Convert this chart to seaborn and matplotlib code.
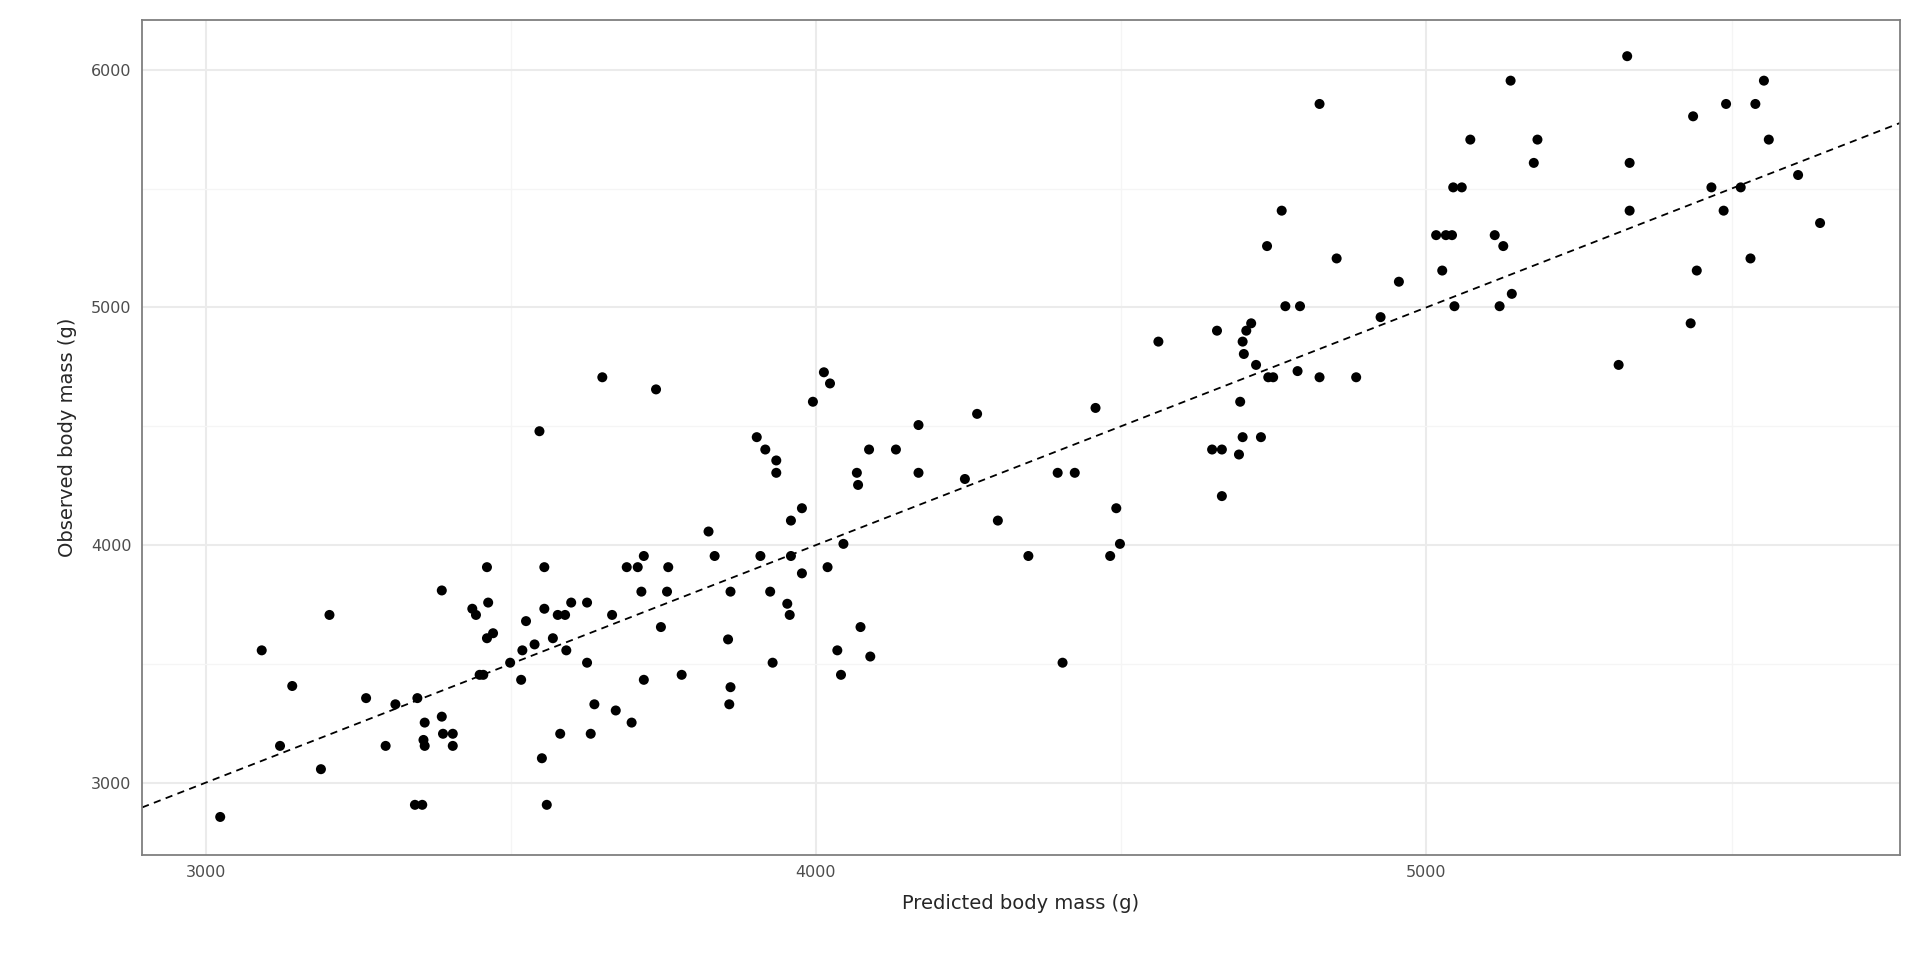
import numpy as np
import pandas as pd
import matplotlib
matplotlib.use("Agg")
import matplotlib.pyplot as plt
import seaborn as sns
from matplotlib.ticker import MultipleLocator

predicted = [3024, 3092, 3122, 3142, 3189, 3203, 3263, 3295, 3311, 3347, 3343, 3355, 3357, 3359, 3359,
             3387, 3387, 3389, 3405, 3405, 3437, 3443, 3449, 3455, 3461, 3463, 3461, 3471, 3499, 3517,
             3519, 3525, 3539, 3547, 3555, 3555, 3551, 3559, 3569, 3577, 3581, 3589, 3591, 3599, 3625,
             3625, 3631, 3637, 3650, 3666, 3672, 3690, 3698, 3708, 3714, 3718, 3718, 3738, 3746, 3756,
             3758, 3780, 3824, 3834, 3856, 3860, 3860, 3858, 3903, 3909, 3917, 3925, 3929, 3935, 3935,
             3953, 3957, 3959, 3959, 3977, 3977, 3995, 4013, 4019, 4023, 4035, 4041, 4045, 4067, 4069,
             4073, 4087, 4089, 4131, 4168, 4168, 4244, 4264, 4298, 4348, 4396, 4404, 4424, 4458, 4482,
             4492, 4498, 4561, 4649, 4657, 4665, 4665, 4693, 4695, 4699, 4699, 4701, 4705, 4713, 4721,
             4729, 4739, 4741, 4749, 4763, 4769, 4789, 4793, 4825, 4825, 4853, 4885, 4925, 4955, 5016,
             5026, 5032, 5042, 5044, 5046, 5058, 5072, 5112, 5120, 5126, 5138, 5140, 5176, 5182, 5315,
             5329, 5333, 5333, 5433, 5437, 5443, 5467, 5487, 5491, 5515, 5531, 5539, 5553, 5561, 5609,
             5645]
observed = [2856, 3557, 3155, 3407, 3057, 3706, 3356, 3155, 3330, 3356, 2907, 2907, 3180, 3253, 3155,
            3809, 3278, 3206, 3206, 3155, 3732, 3706, 3454, 3454, 3907, 3758, 3608, 3629, 3505, 3433,
            3557, 3680, 3582, 4479, 3732, 3907, 3103, 2907, 3608, 3706, 3206, 3706, 3557, 3758, 3758,
            3505, 3206, 3330, 4706, 3706, 3304, 3907, 3253, 3907, 3804, 3954, 3433, 4655, 3655, 3804,
            3907, 3454, 4057, 3954, 3603, 3804, 3402, 3330, 4454, 3954, 4402, 3804, 3505, 4356, 4304,
            3753, 3706, 4103, 3954, 4155, 3881, 4603, 4727, 3907, 4680, 3557, 3454, 4005, 4304, 4253,
            3655, 4402, 3531, 4402, 4505, 4304, 4278, 4552, 4103, 3954, 4304, 3505, 4304, 4577, 3954,
            4155, 4005, 4856, 4402, 4902, 4402, 4206, 4381, 4603, 4454, 4856, 4804, 4902, 4933, 4758,
            4454, 5258, 4706, 4706, 5407, 5005, 4732, 5005, 5856, 4706, 5206, 4706, 4959, 5108, 5304,
            5155, 5304, 5304, 5505, 5005, 5505, 5706, 5304, 5005, 5258, 5954, 5057, 5608, 5706, 4758,
            6057, 5608, 5407, 4933, 5804, 5155, 5505, 5407, 5856, 5505, 5206, 5856, 5954, 5706, 5557,
            5355]

df = pd.DataFrame({"predicted": predicted, "observed": observed})

sns.set_style("white")
fig = plt.figure(figsize=(19.2, 9.6), dpi=100)
ax = fig.add_axes([0.074, 0.1094, 0.9156, 0.8702])

sns.scatterplot(data=df, x="predicted", y="observed", ax=ax, color="black",
                s=52, edgecolor="none", zorder=3)

xlim = (2896, 5776)
ylim = (2696, 6211)
ax.plot(xlim, xlim, color="black", linestyle=(0, (4, 3)), linewidth=1.3, zorder=2)
ax.set_xlim(xlim)
ax.set_ylim(ylim)

ax.xaxis.set_major_locator(MultipleLocator(1000))
ax.yaxis.set_major_locator(MultipleLocator(1000))
ax.xaxis.set_minor_locator(MultipleLocator(500))
ax.yaxis.set_minor_locator(MultipleLocator(500))
ax.grid(which="major", color="#ebebeb", linewidth=1.5, zorder=0)
ax.grid(which="minor", color="#f5f5f5", linewidth=0.9, zorder=0)
ax.set_axisbelow(True)
ax.tick_params(which="major", length=4, color="#333333", labelsize=11.5, labelcolor="#4d4d4d")
ax.tick_params(which="minor", length=0)
for sp in ax.spines.values():
    sp.set_color("#7f7f7f")
    sp.set_linewidth(1.3)

ax.set_xlabel("Predicted body mass (g)", fontsize=14, labelpad=10)
ax.set_ylabel("Observed body mass (g)", fontsize=14, labelpad=10)

fig.savefig("out.png", dpi=100, facecolor="white")
